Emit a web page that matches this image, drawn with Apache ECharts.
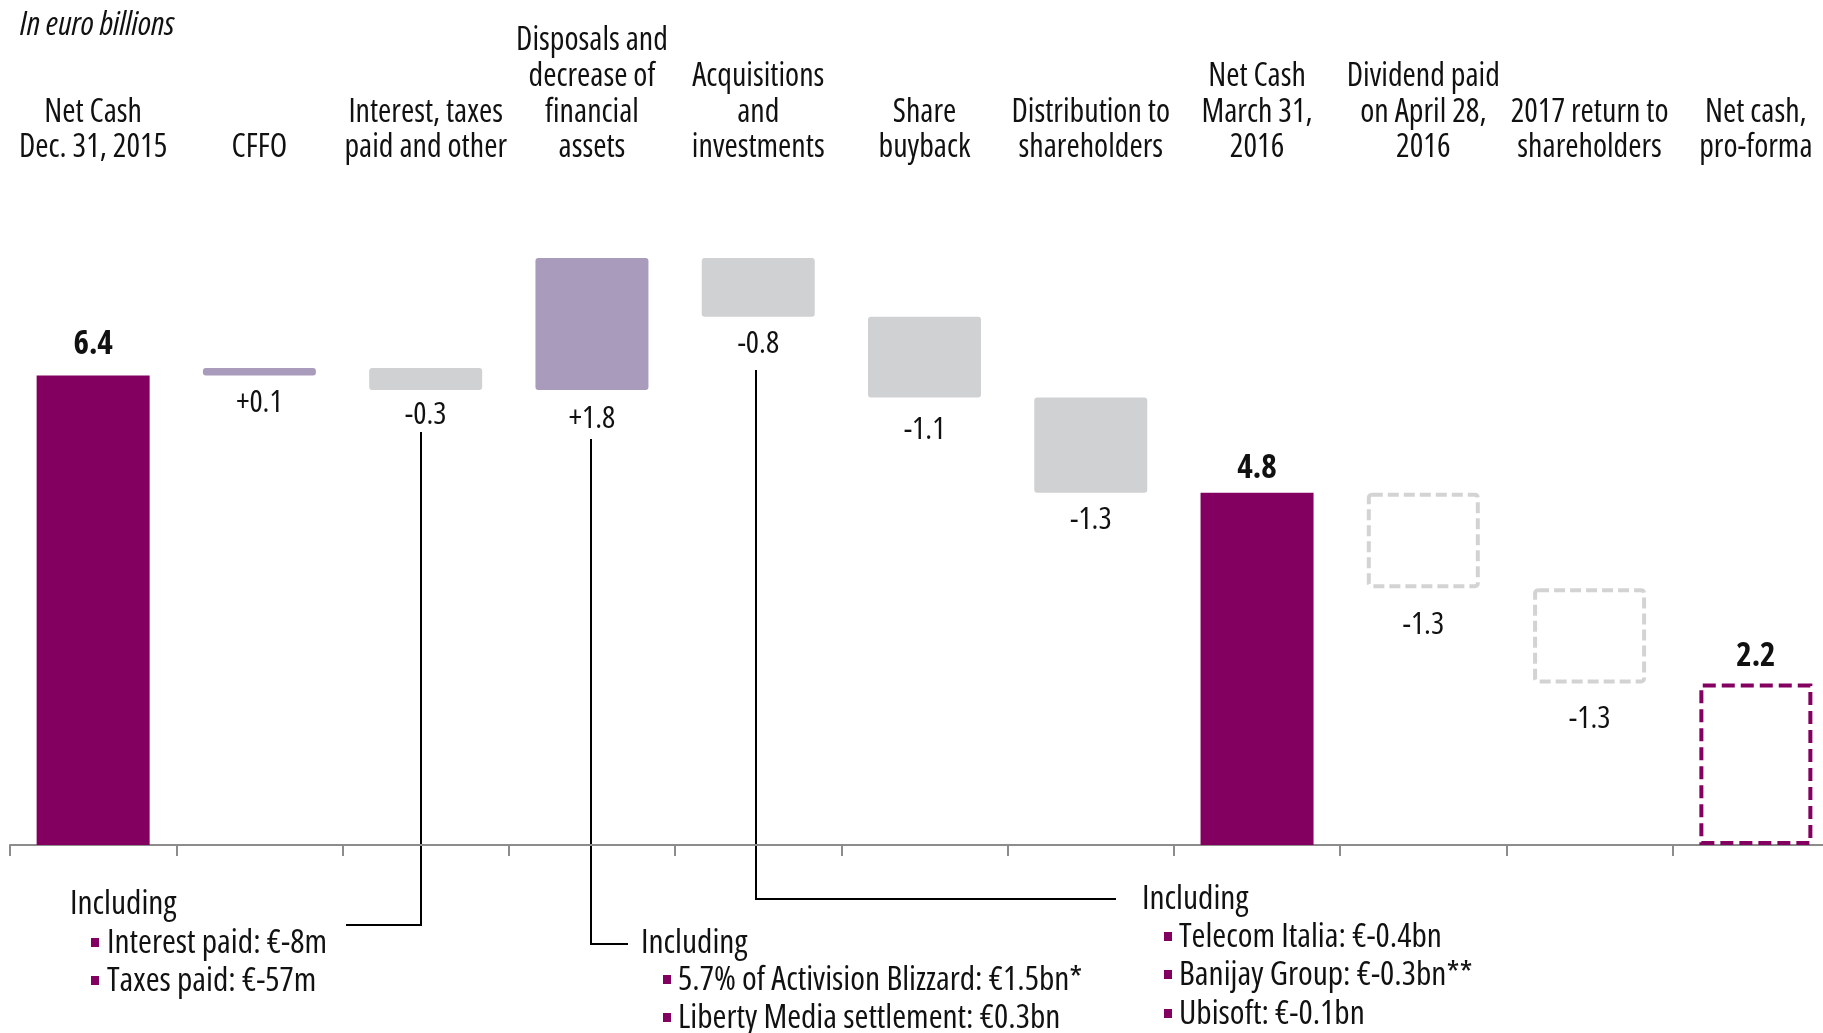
<!DOCTYPE html>
<html><head><meta charset="utf-8">
<script src="https://cdn.jsdelivr.net/npm/echarts@6/dist/echarts.min.js"></script>
<style>html,body{margin:0;padding:0;background:#fff}#c{width:1823px;height:1033px}</style>
</head><body><div id="c"></div>
<script>
const categories = ['Net Cash\nDec. 31, 2015','CFFO','Interest, taxes\npaid and other','Disposals and\ndecrease of\nfinancial\nassets','Acquisitions\nand\ninvestments','Share\nbuyback','Distribution to\nshareholders','Net Cash\nMarch 31,\n2016','Dividend paid\non April 28,\n2016','2017 return to\nshareholders','Net cash,\npro-forma'];
const values = [6.4, 0.1, -0.3, 1.8, -0.8, -1.1, -1.3, 4.8, -1.3, -1.3, 2.2];
const kinds = ['total','increase','decrease','increase','decrease','decrease','decrease','total','projected','projected','projectedTotal'];
const valueLabels = ['6.4','+0.1','-0.3','+1.8','-0.8','-1.1','-1.3','4.8','-1.3','-1.3','2.2'];
const labelDistance = [14, 12, 10, 14, 12, 17, 12, 8, 21, 20, 10];

const FONT = "'Open Sans'";
const W = 'condensed', WB = 'bold condensed';
const DARK = '#840060', LPURP = '#a89bbb', GRAY = '#d0d1d3', DGRAY = '#d3d3d3';

const base = [], height = [];
let running = 0;
values.forEach((v, i) => {
  if (kinds[i] === 'total' || kinds[i] === 'projectedTotal') {
    base.push(0); height.push(v); running = v;
  } else {
    const end = Math.round((running + v) * 10) / 10;
    base.push(Math.min(running, end)); height.push(Math.abs(v)); running = end;
  }
});

function styleFor(kind) {
  if (kind === 'total') return {color: DARK, borderRadius: 0};
  if (kind === 'increase') return {color: LPURP, borderRadius: 3};
  if (kind === 'decrease') return {color: GRAY, borderRadius: 3};
  if (kind === 'projected') return {color: 'rgba(255,255,255,0)', borderColor: DGRAY, borderWidth: 4, borderType: [11, 5], borderRadius: 3};
  return {color: 'rgba(255,255,255,0)', borderColor: DARK, borderWidth: 4, borderType: [13, 6], borderRadius: 0};
}

const visData = height.map((h, i) => {
  const isTotal = kinds[i] === 'total' || kinds[i] === 'projectedTotal';
  return {
    value: h,
    itemStyle: styleFor(kinds[i]),
    label: {
      show: true,
      position: isTotal ? 'top' : 'bottom',
      distance: labelDistance[i],
      formatter: () => valueLabels[i],
      fontFamily: FONT,
      fontSize: isTotal ? 33 : 31,
      fontWeight: isTotal ? WB : W,
      color: '#111'
    }
  };
});

const chart = echarts.init(document.getElementById('c'));
const txt = (text, x, y) => ({type: 'text', x, y, style: {text, fontFamily: FONT, fontWeight: W, fontSize: 33.5, fill: '#111', verticalAlign: 'middle'}});
const sq = (x, y) => ({type: 'rect', shape: {x, y: y - 5, width: 8, height: 9}, style: {fill: DARK}});
const line = (pts) => ({type: 'polyline', shape: {points: pts}, style: {stroke: '#000', lineWidth: 2, fill: null}});

chart.setOption({
  animation: false,
  title: {text: 'In euro billions', left: 15, top: 4, textStyle: {fontFamily: FONT, fontStyle: 'italic', fontWeight: W, fontSize: 33, color: '#111'}},
  grid: {left: 10, top: 148, width: 1829, height: 697, outerBoundsMode: 'none', containLabel: false},
  xAxis: [
    {type: 'category', data: categories, position: 'bottom',
     axisLine: {lineStyle: {color: '#8c8c8c', width: 2}},
     axisTick: {show: true, length: 11, lineStyle: {color: '#8c8c8c', width: 2}},
     axisLabel: {show: false}},
    {type: 'category', data: categories, position: 'top',
     axisLine: {show: false}, axisTick: {show: false},
     axisLabel: {interval: 0, margin: -18, fontFamily: FONT, fontWeight: W, fontSize: 32, lineHeight: 35.7, color: '#111'}}
  ],
  yAxis: {type: 'value', min: 0, max: 9.5, show: false},
  series: [
    {type: 'bar', stack: 'w', xAxisIndex: 0, data: base, barWidth: 113, itemStyle: {color: 'rgba(0,0,0,0)'}, silent: true},
    {type: 'bar', stack: 'w', xAxisIndex: 0, data: visData, barWidth: 113}
  ],
  graphic: [
    line([[421, 432], [421, 925], [346, 925]]),
    line([[591, 439], [591, 944], [628, 944]]),
    line([[756, 370], [756, 899], [1116, 899]]),
    txt('Including', 70, 904),
    sq(91, 943), txt('Interest paid: €-8m', 107, 943),
    sq(91, 981), txt('Taxes paid: €-57m', 107, 981),
    txt('Including', 641, 943),
    sq(663, 980), txt('5.7% of Activision Blizzard: €1.5bn*', 678, 980),
    sq(663, 1018), txt('Liberty Media settlement: €0.3bn', 678, 1018),
    txt('Including', 1142, 899),
    sq(1164, 937), txt('Telecom Italia: €-0.4bn', 1179, 937),
    sq(1164, 975), txt('Banijay Group: €-0.3bn**', 1179, 975),
    sq(1164, 1014), txt('Ubisoft: €-0.1bn', 1179, 1014)
  ]
});
</script></body></html>
